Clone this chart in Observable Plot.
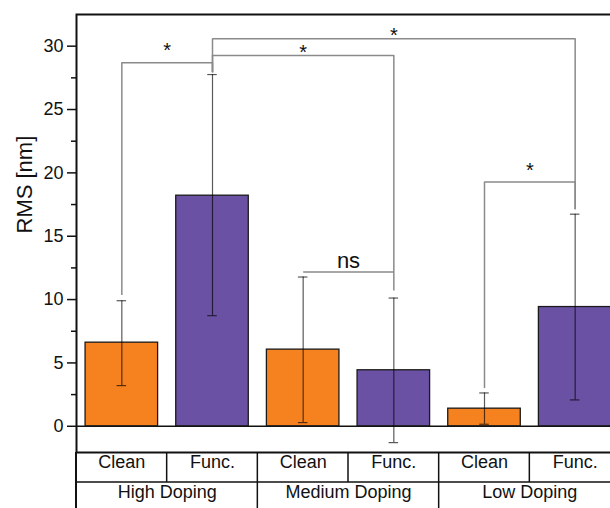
<!DOCTYPE html>
<html>
<head>
<meta charset="utf-8">
<script src="https://cdn.jsdelivr.net/npm/d3@7"></script>
<script src="https://cdn.jsdelivr.net/npm/@observablehq/plot@0.6"></script>
<style>
  html, body { margin: 0; padding: 0; overflow: hidden; background: #fff; width: 610px; height: 508px; }
  #chart { width: 620px; }
  #chart svg { display: block; max-width: none !important; width: 620px !important; height: 508px !important; }
</style>
</head>
<body>
<div id="chart"></div>
<script>
// ---- data ----
const dopingGroups = ["High Doping", "Medium Doping", "Low Doping"];
const treatments = ["Clean", "Func."];
const rmsMean  = [6.6, 18.2, 6.05, 4.42, 1.39, 9.41];
const rmsLower = [3.21, 8.73, 0.29, -1.29, 0.16, 2.08];
const rmsUpper = [9.91, 27.76, 11.78, 10.12, 2.63, 16.74];
const yMajorTicks = [0, 5, 10, 15, 20, 25, 30];
const yMinorTicks = [2.5, 7.5, 12.5, 17.5, 22.5, 27.5];

// significance brackets: bar indices, bracket level, leg ends, label and label level (nm)
const bracketFrom = [0, 1, 1, 2, 4];
const bracketTo   = [1, 3, 5, 3, 5];
const bracketLevel   = [28.69, 29.27, 30.58, 12.17, 19.27];
const bracketFromEnd = [10.33, 27.9, 27.9, 12.17, 2.97];
const bracketToEnd   = [27.9, 10.67, 17.09, 12.17, 17.09];
const bracketLabel   = ["*", "*", "*", "ns", "*"];
const bracketLabelLevel = [29.69, 29.56, 30.87, 13.04, 20.23];

// ---- derived tables ----
const bars = [];
dopingGroups.forEach((g, gi) => treatments.forEach((t, ti) => {
  const i = gi * treatments.length + ti;
  bars.push({key: g + "|" + t, group: g, treatment: t, mean: rmsMean[i], lo: rmsLower[i], hi: rmsUpper[i]});
}));
const keys = bars.map(d => d.key);
const brackets = bracketFrom.map((f, i) => ({
  from: f, to: bracketTo[i],
  x1: keys[f], x2: keys[bracketTo[i]],
  y: bracketLevel[i], y1: bracketFromEnd[i], y2: bracketToEnd[i],
  label: bracketLabel[i], ly: bracketLabelLevel[i]
}));

const W = 620, H = 508, ML = 76, MR = 0, MT = 14, MB = 56;
const step = (W - ML - MR) / keys.length;
const font = "'Liberation Sans', Arial, Helvetica, sans-serif";
const bracketColor = "#8a8a8a";

// table grid drawn below the plot frame
function tableGrid(index, scales, values, dims) {
  const x0 = dims.marginLeft, x1 = dims.width - dims.marginRight;
  const top = dims.height - dims.marginBottom;
  const mid = top + 30;
  const n = keys.length, s = (x1 - x0) / n;
  const g = d3.create("svg:g").attr("stroke", "#111").attr("stroke-width", 1.5).attr("fill", "none");
  g.append("line").attr("x1", x0).attr("x2", x1).attr("y1", mid).attr("y2", mid);
  g.append("line").attr("x1", x0).attr("x2", x0).attr("y1", top).attr("y2", dims.height).attr("stroke-width", 2);
  for (let i = 1; i < n; i++) {
    const x = x0 + i * s;
    g.append("line").attr("x1", x).attr("x2", x).attr("y1", top).attr("y2", i % 2 === 0 ? dims.height : mid);
  }
  return g.node();
}

const labelMarks = brackets.map(b => Plot.text([b], {
  x: "x1", y: "ly", text: "label",
  dx: (b.to - b.from) * step / 2,
  dy: b.label === "ns" ? 0 : 0.5,
  fontSize: b.label === "ns" ? 22 : 20,
  fill: "#111"
}));

const chart = Plot.plot({
  width: W, height: H,
  marginLeft: ML, marginRight: MR, marginTop: MT, marginBottom: MB,
  style: {fontFamily: font, fontSize: "18px", color: "#111", background: "#fff", overflow: "visible", maxWidth: "none"},
  x: {type: "band", domain: keys, paddingInner: 0.2, paddingOuter: 0.1, round: false, axis: null},
  y: {domain: [-2.07, 32.5], nice: false, axis: null},
  color: {domain: treatments, range: ["#F5821F", "#6A51A3"]},
  marks: [
    Plot.ruleY([0], {stroke: "#111", strokeWidth: 1.5}),
    Plot.barY(bars, {x: "key", y1: 0, y2: "mean", fill: "treatment", stroke: "#1a1a1a", strokeWidth: 1.3}),
    // error bars
    Plot.ruleX(bars, {x: "key", y1: "lo", y2: "hi", stroke: "#000", strokeOpacity: 0.65, strokeWidth: 1.2}),
    Plot.tickY(bars, {x: "key", y: "lo", insetLeft: 31.5, insetRight: 31.5, stroke: "#000", strokeOpacity: 0.65, strokeWidth: 1.2}),
    Plot.tickY(bars, {x: "key", y: "hi", insetLeft: 31.5, insetRight: 31.5, stroke: "#000", strokeOpacity: 0.65, strokeWidth: 1.2}),
    // significance brackets
    Plot.ruleX(brackets, {x: "x1", y1: "y1", y2: "y", stroke: bracketColor, strokeWidth: 1.5}),
    Plot.ruleX(brackets, {x: "x2", y1: "y2", y2: "y", stroke: bracketColor, strokeWidth: 1.5}),
    Plot.link(brackets, {x1: "x1", x2: "x2", y1: "y", y2: "y", stroke: bracketColor, strokeWidth: 1.5}),
    ...labelMarks,
    // frame & axes
    Plot.frame({stroke: "#111", strokeWidth: 2}),
    Plot.axisY({ticks: yMajorTicks, tickSize: 9, tickPadding: 4, fontSize: 18, label: null, strokeWidth: 1.5}),
    Plot.axisY({ticks: yMinorTicks, tickSize: 5, tickFormat: () => "", label: null, strokeWidth: 1.5}),
    Plot.text(["RMS [nm]"], {frameAnchor: "left", rotate: -90, dx: -52, fontSize: 22, fill: "#111"}),
    // category table
    tableGrid,
    Plot.text(bars, {x: "key", text: "treatment", frameAnchor: "bottom", dy: 15.7, fontSize: 18, fill: "#111"}),
    Plot.text(bars.filter(d => d.treatment === "Func."), {x: "key", text: "group", frameAnchor: "bottom", dy: 45.4, dx: -step / 2, fontSize: 18, fill: "#111"})
  ]
});
document.getElementById("chart").appendChild(chart);
</script>
</body>
</html>
